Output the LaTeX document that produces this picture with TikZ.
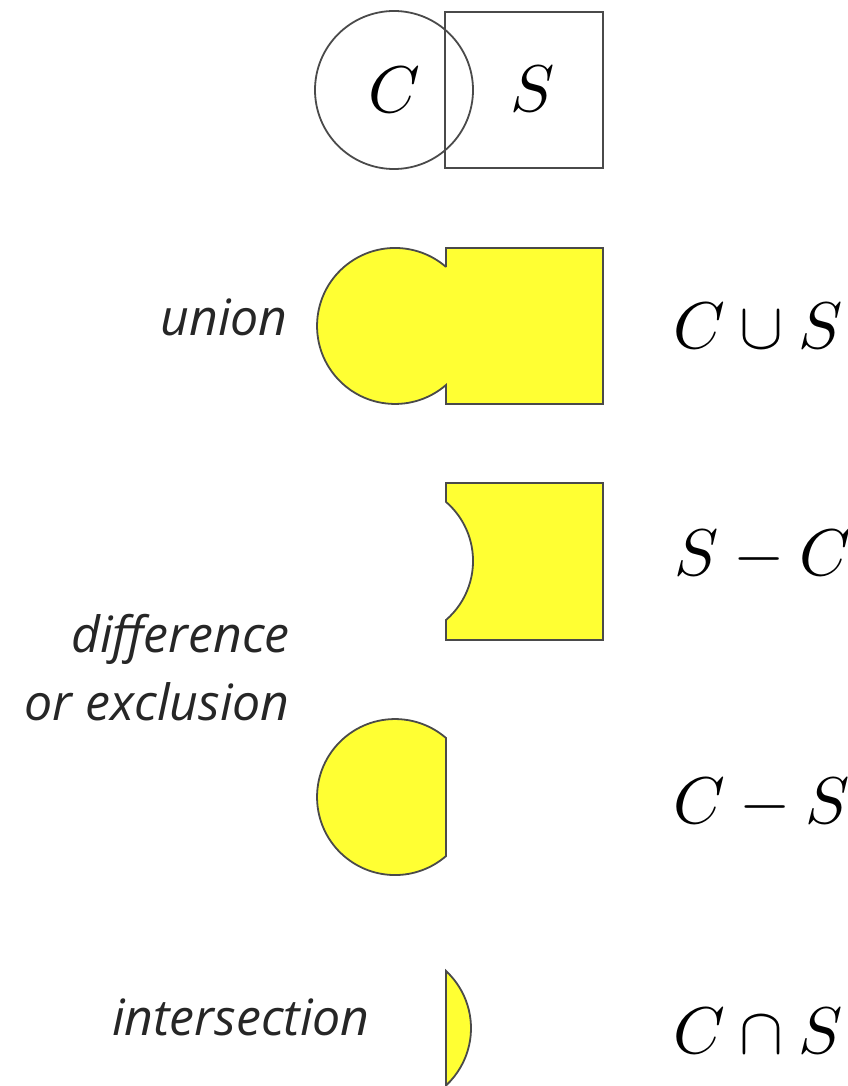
\documentclass[tikz,border=0pt]{standalone}
\usepackage{fontspec}
\newfontfamily\labelfont{Open Sans}
\definecolor{setyellow}{HTML}{FFFF33}
\definecolor{setedge}{HTML}{4A4A4A}
\begin{document}
\begin{tikzpicture}[x=1pt, y=-1pt,
    setline/.style={draw=setedge, line width=1.8pt},
    setfill/.style={fill=setyellow, draw=setedge, line width=1.8pt},
    wordlabel/.style={font=\labelfont\itshape\fontsize{50}{68}\selectfont, text=black!85, inner sep=0pt, align=right},
    mathlabel/.style={scale=6.6, inner sep=0pt}]
  \useasboundingbox (0,0) rectangle (847,1086);

  % 1. circle C and square S
  \draw[setline] (394,90) circle (79);
  \draw[setline] (445,12) rectangle (603,168);
  \node[mathlabel, anchor=base] (lblC) at (394,113) {$C$};
  \node[mathlabel, anchor=base] (lblS) at (533,112) {$S$};

  % 2. union
  \draw[setfill] (446,267) -- (446,248) -- (603,248) -- (603,404) -- (446,404) -- (446,385)
    arc[start angle=49.2, end angle=310.8, radius=78] -- cycle;
  \node[wordlabel, anchor=base east] (union) at (288,335) {union};
  \node[mathlabel, anchor=base west] (cup) at (672,348) {$C\cup S$};

  % 3. difference S - C
  \draw[setfill] (446,483) -- (603,483) -- (603,640) -- (446,640) -- (446,620)
    arc[start angle=49.2, end angle=-49.2, radius=78] -- cycle;
  \node[mathlabel, anchor=base west] (SminusC) at (673,575) {$S-C$};

  \node[wordlabel, anchor=base east] (diff) at (290,720) {difference\\or exclusion};

  % 4. difference C - S
  \draw[setfill] (446,738) arc[start angle=-49.2, end angle=-310.8, radius=78] -- cycle;
  \node[mathlabel, anchor=base west] (CminusS) at (672,823) {$C-S$};

  % 5. intersection
  \draw[setfill] (446,971) arc[start angle=-47.2, end angle=47.2, radius=78] -- cycle;
  \node[wordlabel, anchor=base east] (inter) at (370,1035) {intersection};
  \node[mathlabel, anchor=base west] (cap) at (672,1053) {$C\cap S$};
\end{tikzpicture}
\end{document}
